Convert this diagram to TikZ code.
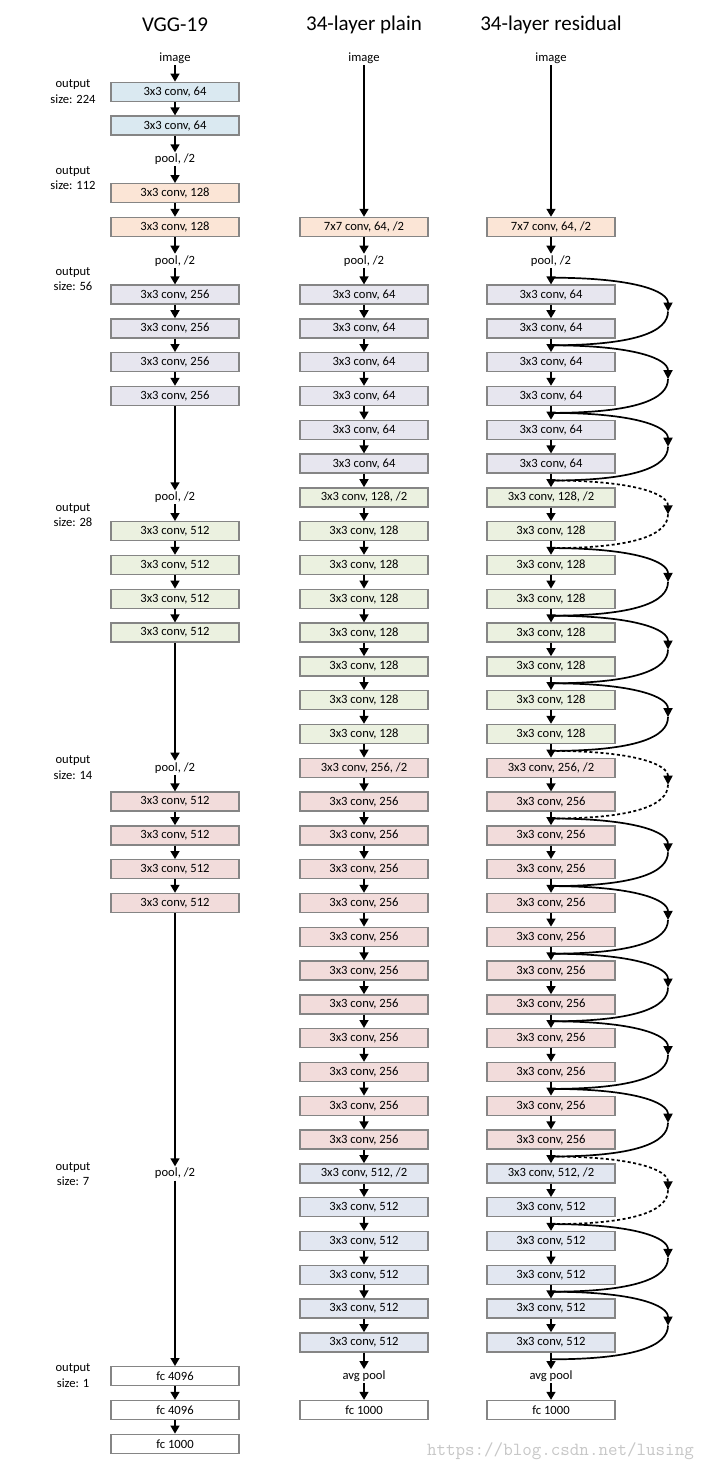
\documentclass[tikz,border=0pt]{standalone}
\usepackage{fontspec}
\setmainfont{Carlito}
\usetikzlibrary{arrows.meta}
\definecolor{cblue}{HTML}{DAE9F1}
\definecolor{cpeach}{HTML}{FBE5D6}
\definecolor{clav}{HTML}{E7E6EF}
\definecolor{cgreen}{HTML}{EBF1E0}
\definecolor{cpink}{HTML}{F2DCDB}
\definecolor{cgray}{HTML}{E2E7F1}
\definecolor{bord}{HTML}{858585}
\begin{document}
\begin{tikzpicture}[x=1pt,y=-1pt,
  lay/.style={draw=bord, line width=1.4pt, minimum width=128pt, minimum height=19pt, inner sep=0pt, font=\fontsize{12.6}{14}\selectfont},
  blu/.style={lay, fill=cblue},
  pea/.style={lay, fill=cpeach},
  lav/.style={lay, fill=clav},
  grn/.style={lay, fill=cgreen},
  pnk/.style={lay, fill=cpink},
  gry/.style={lay, fill=cgray},
  wht/.style={lay, fill=white},
  txt/.style={inner sep=1.5pt, font=\fontsize{12.6}{14}\selectfont},
  olab/.style={align=center, inner sep=0pt, font=\fontsize{12.6}{15.5}\selectfont},
  ttl/.style={font=\fontsize{21}{23}\selectfont},
  arr/.style={line width=1.5pt, -{Triangle[length=8pt,width=9pt]}},
  sk/.style={line width=1.7pt},
  skd/.style={line width=1.7pt, dash pattern=on 3pt off 2.5pt},
  tip/.style={-{Triangle[length=9pt,width=9pt]}}
]
\useasboundingbox[fill=white] (0,0) rectangle (704,1469);

% titles
\node[ttl] (t1) at (175,25) {VGG-19};
\node[ttl] (t2) at (364,25) {34-layer plain};
\node[ttl] (t3) at (551,25) {34-layer residual};

% output size labels
\node[olab] (o1) at (73,91.5) {output\\size: 224};
\node[olab] (o2) at (73,178) {output\\size: 112};
\node[olab] (o3) at (73,279) {output\\size: 56};
\node[olab] (o4) at (73,515) {output\\size: 28};
\node[olab] (o5) at (73,767.5) {output\\size: 14};
\node[olab] (o6) at (73,1174) {output\\size: 7};
\node[olab] (o7) at (73,1375.5) {output\\size: 1};

% VGG-19 column (k = row index, y = 58 + 33.8 k)
\node[txt] (v0) at (175,{58+33.8*0}) {image};
\foreach \k in {1,2} \node[blu] (v\k) at (175,{58+33.8*\k}) {3x3 conv, 64};
\node[txt] (v3) at (175,{58+33.8*3}) {pool, /2};
\foreach \k in {4,5} \node[pea] (v\k) at (175,{58+33.8*\k}) {3x3 conv, 128};
\node[txt] (v6) at (175,{58+33.8*6}) {pool, /2};
\foreach \k in {7,...,10} \node[lav] (v\k) at (175,{58+33.8*\k}) {3x3 conv, 256};
\node[txt] (v13) at (175,{58+33.8*13}) {pool, /2};
\foreach \k in {14,...,17} \node[grn] (v\k) at (175,{58+33.8*\k}) {3x3 conv, 512};
\node[txt] (v21) at (175,{58+33.8*21}) {pool, /2};
\foreach \k in {22,...,25} \node[pnk] (v\k) at (175,{58+33.8*\k}) {3x3 conv, 512};
\node[txt] (v33) at (175,{58+33.8*33}) {pool, /2};
\foreach \k in {39,40} \node[wht] (v\k) at (175,{58+33.8*\k}) {fc 4096};
\node[wht] (v41) at (175,{58+33.8*41}) {fc 1000};
\foreach \k [remember=\k as \pk (initially -1)] in {0,1,2,3,4,5,6,7,8,9,10,13,14,15,16,17,21,22,23,24,25,33,39,40,41}
  {\ifnum\pk>-1 \draw[arr] (v\pk) -- (v\k);\fi}

% plain and residual columns (row r, y = 227 + 33.8 r)
\foreach \col/\x in {p/364,r/551}{
  \node[txt] (\col img) at (\x,{227-5*33.8}) {image};
  \node[pea] (\col0) at (\x,227) {7x7 conv, 64, /2};
  \node[txt] (\col1) at (\x,{227+33.8}) {pool, /2};
  \foreach \r in {2,...,7} \node[lav] (\col\r) at (\x,{227+33.8*\r}) {3x3 conv, 64};
  \node[grn] (\col8) at (\x,{227+33.8*8}) {3x3 conv, 128, /2};
  \foreach \r in {9,...,15} \node[grn] (\col\r) at (\x,{227+33.8*\r}) {3x3 conv, 128};
  \node[pnk] (\col16) at (\x,{227+33.8*16}) {3x3 conv, 256, /2};
  \foreach \r in {17,...,27} \node[pnk] (\col\r) at (\x,{227+33.8*\r}) {3x3 conv, 256};
  \node[gry] (\col28) at (\x,{227+33.8*28}) {3x3 conv, 512, /2};
  \foreach \r in {29,...,33} \node[gry] (\col\r) at (\x,{227+33.8*\r}) {3x3 conv, 512};
  \node[txt] (\col34) at (\x,{227+33.8*34}) {avg pool};
  \node[wht] (\col35) at (\x,{227+33.8*35}) {fc 1000};
  \draw[arr] (\col img) -- (\col0);
  \foreach \r [evaluate=\r as \s using int(\r+1)] in {0,...,34}
    \draw[arr] (\col\r) -- (\col\s);
}

% shortcut connections
\foreach \j in {0,...,16}
  \coordinate (s\j) at (551,{227+33.8*(1.5+2*\j)});
\foreach \j in {0,...,15}
  \coordinate (m\j) at (668,{227+33.8*(2.5+2*\j)});
\foreach \j/\st in {0/sk,1/sk,2/sk,3/skd,4/sk,5/sk,6/sk,7/skd,8/sk,9/sk,10/sk,11/sk,12/sk,13/skd,14/sk,15/sk}{
  \pgfmathtruncatemacro{\jn}{\j+1}
  \draw[\st,tip] (s\j) .. controls +(85,0) and +(0,-20) .. (m\j);
  \draw[\st] (m\j) .. controls +(0,20) and +(85,0) .. (s\jn);
}

% watermark
\node[font=\ttfamily\fontsize{18.5}{20}\selectfont, text=black!22, anchor=east, inner sep=0pt] (wm) at (694,1451) {https://blog.csdn.net/lusing};
\end{tikzpicture}
\end{document}
